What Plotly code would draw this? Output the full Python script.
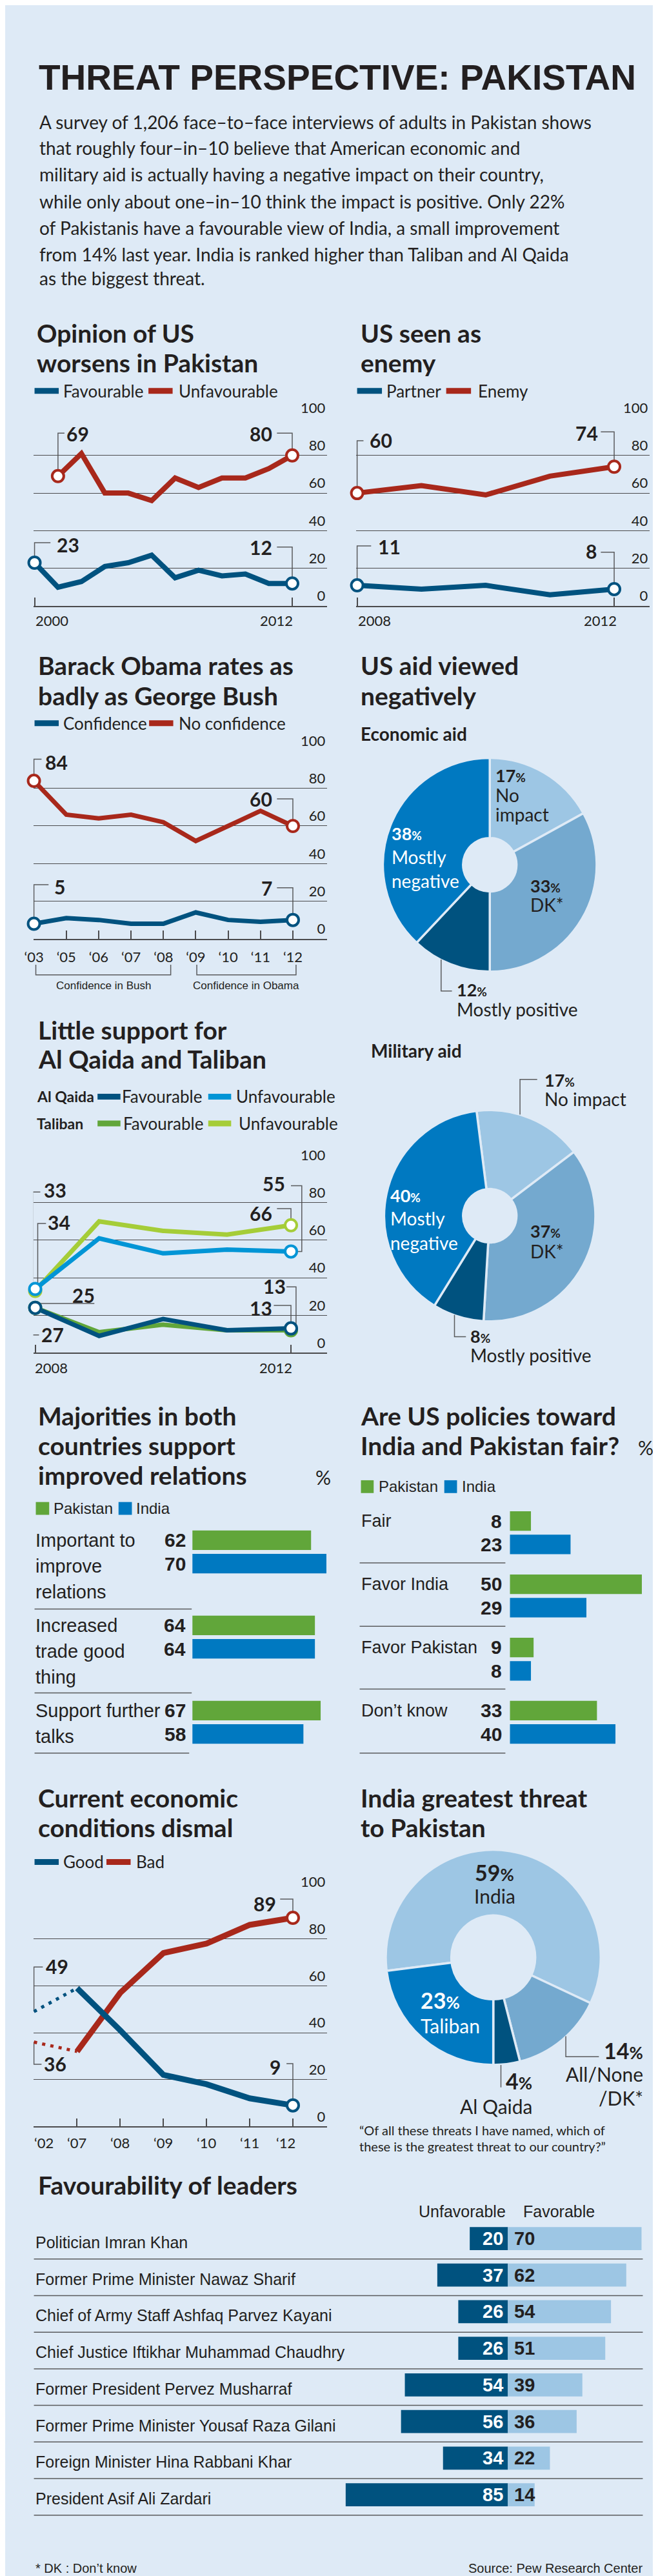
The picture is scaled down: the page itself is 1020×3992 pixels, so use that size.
import plotly.graph_objects as go

W, H = 1020, 3992

# ---------------- data ----------------
opinion_years = ['2000', '2002', '2003', '2004', '2005', '2006', '2007', '2008', '2009', '2010', '2011', '2012']
opinion_favourable = [23, 10, 13, 21, 23, 27, 15, 19, 16, 17, 12, 12]
opinion_unfavourable = [None, 69, 81, 60, 60, 56, 68, 63, 68, 68, 73, 80]
opinion_fav_ends = [23, 12]
opinion_unfav_ends = [69, 80]

enemy_years = ['2008', '2009', '2010', '2011', '2012']
enemy_partner = [11, 9, 11, 6, 9]
enemy_enemy = [60, 64, 59, 69, 74]
enemy_partner_ends = [11, 8]
enemy_enemy_ends = [60, 74]

obama_years = ['\u201803', '\u201805', '\u201806', '\u201807', '\u201808', '\u201809', '\u201810', '\u201811', '\u201812']
obama_confidence = [8, 11, 10, 8, 8, 14, 10, 9, 10]
obama_no_confidence = [84, 66, 64, 66, 62, 52, 60, 68, 60]
obama_conf_ends = [5, 7]
obama_noconf_ends = [84, 60]

militant_years = ['2008', '2009', '2010', '2011', '2012']
alqaida_fav = [24, 9, 18, 12, 13]
alqaida_unfav = [34, 61, 53, 55, 54]
taliban_fav = [24, 11, 15, 12, 12]
taliban_unfav = [33, 70, 65, 63, 68]
alqaida_fav_ends = [25, 13]
alqaida_unfav_ends = [34, 55]
taliban_fav_ends = [27, 13]
taliban_unfav_ends = [33, 66]

economy_years = ['\u201802', '\u201807', '\u201808', '\u201809', '\u201810', '\u201811', '\u201812']
economy_good = [49, 59, 41, 22, 18, 12, 9]
economy_bad = [36, 32, 57, 74, 78, 86, 89]

aid_labels = ['No impact', 'DK*', 'Mostly positive', 'Mostly negative']
economic_aid = [17, 33, 12, 38]
military_aid = [17, 37, 8, 40]

threat_labels = ['India', 'All/None/DK*', 'Al Qaida', 'Taliban']
threat_values = [59, 14, 4, 23]

relations_items = ['Important to improve relations', 'Increased trade good thing', 'Support further talks']
relations_wrap = [['Important to', 'improve', 'relations'], ['Increased', 'trade good', 'thing'], ['Support further', 'talks']]
relations_pakistan = [62, 64, 67]
relations_india = [70, 64, 58]

policy_items = ['Fair', 'Favor India', 'Favor Pakistan', 'Don\u2019t know']
policy_pakistan = [8, 50, 9, 33]
policy_india = [23, 29, 8, 40]

leaders = ['Politician Imran Khan', 'Former Prime Minister Nawaz Sharif', 'Chief of Army Staff Ashfaq Parvez Kayani',
           'Chief Justice Iftikhar Muhammad Chaudhry', 'Former President Pervez Musharraf',
           'Former Prime Minister Yousaf Raza Gilani', 'Foreign Minister Hina Rabbani Khar', 'President Asif Ali Zardari']
leaders_unfavorable = [20, 37, 26, 26, 54, 56, 34, 85]
leaders_favorable = [70, 62, 54, 51, 39, 36, 22, 14]

intro_lines = [
    'A survey of 1,206 face\u2013to\u2013face interviews of adults in Pakistan shows',
    'that roughly four\u2013in\u201310 believe that American economic and',
    'military aid is actually having a negative impact on their country,',
    'while only about one\u2013in\u201310 think the impact is positive. Only 22%',
    'of Pakistanis have a favourable view of India, a small improvement',
    'from 14% last year. India is ranked higher than Taliban and Al Qaida',
    'as the biggest threat.',
]

# ---------------- style ----------------
BG = '#deeaf6'
INK = '#231f20'
GRID = '#4b4b4d'
LEADER = '#5a5b5d'
RED = '#a8281b'
NAVY = '#00527f'
BLUE = '#0079c1'
CYAN = '#0095d6'
GREEN = '#61a63a'
LIME = '#a5cd38'
PALE = '#9dc6e4'
MID = '#74a9cf'
SANS = 'Lato, "Open Sans", sans-serif'
NARROW = '"Liberation Sans", Arial, sans-serif'

fig = go.Figure()
ann, shp, lay = [], [], {}


def X(p):
    return p / W


def Y(p):
    return 1 - p / H


def txt(x, y, s, size, family=SANS, weight=400, color=INK, xanchor='left', yanchor='middle'):
    ann.append(dict(x=X(x), y=Y(y), xref='paper', yref='paper', text=s, showarrow=False,
                    xanchor=xanchor, yanchor=yanchor,
                    font=dict(family=family, size=size, color=color, weight=weight)))


def seg(points, color=LEADER, width=1.5):
    path = 'M ' + ' L '.join(f'{X(a):.5f},{Y(b):.5f}' for a, b in points)
    shp.append(dict(type='path', path=path, xref='paper', yref='paper', line=dict(color=color, width=width)))


def swatch(x0, x1, y, color, width=9):
    shp.append(dict(type='line', x0=X(x0), x1=X(x1), y0=Y(y), y1=Y(y), xref='paper', yref='paper',
                    line=dict(color=color, width=width)))


def square(x0, x1, y0, y1, color):
    shp.append(dict(type='rect', x0=X(x0), x1=X(x1), y0=Y(y1), y1=Y(y0), xref='paper', yref='paper',
                    fillcolor=color, line=dict(width=0)))


def title(x, ys, lines, size=39):
    for y, s in zip(ys, lines):
        txt(x, y, s, size, weight=700)


def line_panel(k, cats, x_first, x_last, left, right, y0, y100, tick_idx, show_labels):
    n = len(cats)
    p = dict(ppx=(x_last - x_first) / (n - 1), ppu=(y0 - y100) / 100.0, x_first=x_first, y0=y0)
    sfx = '' if k == 1 else str(k)
    p['xa'], p['ya'] = 'x' + sfx, 'y' + sfx
    xr = [(left - x_first) / p['ppx'], (n - 1) + (right - x_last) / p['ppx']]
    lay['xaxis' + sfx] = dict(domain=[X(left), X(right)], range=xr, anchor=p['ya'], fixedrange=True,
                              showgrid=False, zeroline=False, showline=True, linecolor=GRID, linewidth=1.5,
                              ticks='inside', ticklen=13, tickwidth=1.5, tickcolor=GRID,
                              tickmode='array', tickvals=tick_idx, ticktext=[cats[i] for i in tick_idx],
                              showticklabels=show_labels, ticklabelstandoff=8,
                              tickfont=dict(family=SANS, size=22, color=INK))
    lay['yaxis' + sfx] = dict(domain=[Y(y0), Y(y100)], range=[0, 100], anchor=p['xa'], side='right',
                              ticklabelposition='inside top', ticklabeloverflow='allow',
                              tickmode='linear', tick0=0, dtick=20, ticks='',
                              showgrid=True, gridcolor=GRID, gridwidth=1, zeroline=False, showline=False,
                              fixedrange=True, tickfont=dict(family=SANS, size=22, color=INK))
    return p


def series(p, ys, color, width=8, dash='solid', xs=None):
    if xs is None:
        xs = list(range(len(ys)))
    fig.add_trace(go.Scatter(x=xs, y=ys, mode='lines', line=dict(color=color, width=width, dash=dash),
                             xaxis=p['xa'], yaxis=p['ya'], cliponaxis=False, hoverinfo='skip',
                             showlegend=False))


def ends(p, ys, color, idx, size=18):
    fig.add_trace(go.Scatter(x=idx, y=[ys[i] for i in idx], mode='markers',
                             marker=dict(size=size, color='white', line=dict(color=color, width=4)),
                             xaxis=p['xa'], yaxis=p['ya'], cliponaxis=False, hoverinfo='skip',
                             showlegend=False))


def callout(p, idx, val, label, tx, ty, anchor, path):
    txt(tx, ty, str(label), 30, weight=700, xanchor=anchor)
    pts = [(idx, val)]
    for xp, yp in path:
        pts.append((idx if xp is None else (xp - p['x_first']) / p['ppx'],
                    val if yp is None else (p['y0'] - yp) / p['ppu']))
    shp.append(dict(type='path', path='M ' + ' L '.join(f'{a:.4f},{b:.4f}' for a, b in pts),
                    xref=p['xa'], yref=p['ya'], line=dict(color=LEADER, width=1.5), layer='below'))


# ---------------- header ----------------
txt(37, 83, 'THREAT PERSPECTIVE: PAKISTAN', 55, family=NARROW, weight=700)
for y, line in zip([152, 192, 234, 276, 317, 359, 396], intro_lines):
    txt(38, y, line, 28)

# ---------------- Opinion of US ----------------
title(33, [482, 528], ['Opinion of US', 'worsens in Pakistan'])
swatch(32, 70, 572, NAVY); txt(75, 572, 'Favourable', 26)
swatch(211, 249, 572, RED); txt(257, 572, 'Unfavourable', 26)
pA = line_panel(1, opinion_years, 32, 437, 30, 492, 908, 614, [0, 11], False)
series(pA, opinion_unfavourable, RED)
series(pA, opinion_favourable, NAVY)
ends(pA, opinion_unfavourable, RED, [1, 11])
ends(pA, opinion_favourable, NAVY, [0, 11])
callout(pA, 1, opinion_unfavourable[1], opinion_unfav_ends[0], 80, 639, 'left', [(None, 638), (79, 638)])
callout(pA, 11, opinion_unfavourable[11], opinion_unfav_ends[1], 408, 639, 'right', [(None, 638), (413, 638)])
callout(pA, 0, opinion_favourable[0], opinion_fav_ends[0], 65, 812, 'left', [(None, 809), (57, 809)])
callout(pA, 11, opinion_favourable[11], opinion_fav_ends[1], 408, 816, 'right', [(None, 816), (413, 816)])
txt(31, 930, opinion_years[0], 22)
txt(440, 930, opinion_years[-1], 22, xanchor='right')

# ---------------- US seen as enemy ----------------
title(542, [482, 528], ['US seen as', 'enemy'])
swatch(539, 578, 572, NAVY); txt(583, 572, 'Partner', 26)
swatch(679, 718, 572, RED); txt(727, 572, 'Enemy', 26)
pB = line_panel(2, enemy_years, 539, 943, 537, 999, 908, 614, [0, 4], False)
series(pB, enemy_enemy, RED)
series(pB, enemy_partner, NAVY)
ends(pB, enemy_enemy, RED, [0, 4])
ends(pB, enemy_partner, NAVY, [0, 4])
callout(pB, 0, enemy_enemy[0], enemy_enemy_ends[0], 557, 649, 'left', [(None, 650), (549, 650)])
callout(pB, 4, enemy_enemy[4], enemy_enemy_ends[1], 920, 638, 'right', [(None, 636), (922, 636)])
callout(pB, 0, enemy_partner[0], enemy_partner_ends[0], 570, 815, 'left', [(None, 814), (561, 814)])
callout(pB, 4, enemy_partner[4], enemy_partner_ends[1], 918, 822, 'right', [(None, 824), (922, 824)])
txt(538, 930, enemy_years[0], 22)
txt(949, 930, enemy_years[-1], 22, xanchor='right')

# ---------------- Obama vs Bush ----------------
title(35, [1001, 1048], ['Barack Obama rates as', 'badly as George Bush'])
swatch(32, 70, 1091, NAVY); txt(75, 1091, 'Confidence', 26)
swatch(212, 250, 1091, RED); txt(257, 1091, 'No confidence', 26)
pC = line_panel(3, obama_years, 31, 438, 30, 492, 1427.5, 1134, list(range(len(obama_years))), True)
series(pC, obama_no_confidence, RED, 7)
series(pC, obama_confidence, NAVY, 7)
ends(pC, obama_no_confidence, RED, [0, 8])
ends(pC, obama_confidence, NAVY, [0, 8])
callout(pC, 0, obama_no_confidence[0], obama_noconf_ends[0], 47, 1152, 'left', [(None, 1147), (43, 1147)])
callout(pC, 8, obama_no_confidence[8], obama_noconf_ends[1], 408, 1209, 'right', [(None, 1209), (413, 1209)])
callout(pC, 0, obama_confidence[0], obama_conf_ends[0], 61, 1346, 'left', [(None, 1343), (54, 1343)])
callout(pC, 8, obama_confidence[8], obama_conf_ends[1], 408, 1348, 'right', [(None, 1348), (413, 1348)])
seg([(34, 1468), (34, 1484), (246, 1484), (246, 1468)])
seg([(287, 1468), (287, 1484), (443, 1484), (443, 1468)])
txt(140, 1501, 'Confidence in Bush', 17, family=NARROW, xanchor='center')
txt(365, 1501, 'Confidence in Obama', 17, family=NARROW, xanchor='center')

# ---------------- US aid pies ----------------
title(542, [1001, 1048], ['US aid viewed', 'negatively'])
txt(542, 1107, 'Economic aid', 28, weight=700)
PIE_COLORS = [PALE, MID, NAVY, BLUE]
fig.add_trace(go.Pie(labels=aid_labels, values=economic_aid, hole=0.25, sort=False, direction='clockwise',
                     rotation=0, marker=dict(colors=PIE_COLORS, line=dict(color=BG, width=3.5)),
                     textinfo='none', hoverinfo='skip', showlegend=False,
                     domain=dict(x=[X(579.5), X(915.5)], y=[Y(1480), Y(1144)])))


def pct(v, small=19):
    return f'{v}<span style="font-size:{small}px">%</span>'


txt(754, 1172, pct(economic_aid[0]), 27, weight=700)
txt(754, 1203, 'No', 28); txt(754, 1233, 'impact', 28)
txt(591, 1263, pct(economic_aid[3]), 27, weight=700, color='white')
txt(591, 1300, 'Mostly', 28, color='white'); txt(591, 1337, 'negative', 28, color='white')
txt(809, 1345, pct(economic_aid[1]), 27, weight=700)
txt(809, 1374, 'DK*', 28)
txt(694, 1507, pct(economic_aid[2]), 27, weight=700)
txt(694, 1538, 'Mostly positive', 28)
seg([(671, 1460), (671, 1509), (688, 1509)])

txt(559, 1602, 'Military aid', 28, weight=700)
fig.add_trace(go.Pie(labels=aid_labels, values=military_aid, hole=0.253, sort=False, direction='clockwise',
                     rotation=-7.2, marker=dict(colors=PIE_COLORS, line=dict(color=BG, width=3.5)),
                     textinfo='none', hoverinfo='skip', showlegend=False,
                     domain=dict(x=[X(581.5), X(913.5)], y=[Y(2026), Y(1694)])))
txt(831, 1648, pct(military_aid[0]), 27, weight=700)
txt(831, 1678, 'No impact', 28)
seg([(795, 1702), (795, 1647), (822, 1647)])
txt(589, 1828, pct(military_aid[3]), 27, weight=700, color='white')
txt(589, 1864, 'Mostly', 28, color='white'); txt(589, 1902, 'negative', 28, color='white')
txt(809, 1884, pct(military_aid[1]), 27, weight=700)
txt(809, 1915, 'DK*', 28)
txt(715, 2048, pct(military_aid[2]), 27, weight=700)
txt(715, 2078, 'Mostly positive', 28)
seg([(692, 2015), (692, 2049), (710, 2049)])

# ---------------- Al Qaida / Taliban ----------------
title(35, [1570, 1615], ['Little support for', 'Al Qaida and Taliban'])
txt(33, 1674, 'Al Qaida', 23, weight=700)
swatch(131, 167, 1674, NAVY); txt(167, 1674, 'Favourable', 26)
swatch(305, 341, 1674, CYAN); txt(347, 1674, 'Unfavourable', 26)
txt(33, 1716, 'Taliban', 23, weight=700)
swatch(131, 167, 1716, GREEN); txt(169, 1716, 'Favourable', 26)
swatch(305, 341, 1716, LIME); txt(351, 1716, 'Unfavourable', 26)
pE = line_panel(4, militant_years, 33, 435, 30, 492, 2074, 1781, [0, 4], False)
series(pE, taliban_unfav, LIME, 7)
series(pE, alqaida_unfav, CYAN, 7)
series(pE, taliban_fav, GREEN, 7)
series(pE, alqaida_fav, NAVY, 7)
ends(pE, taliban_unfav, LIME, [0, 4])
ends(pE, alqaida_unfav, CYAN, [0, 4])
ends(pE, taliban_fav, GREEN, [0, 4])
ends(pE, alqaida_fav, NAVY, [0, 4])
callout(pE, 0, taliban_unfav[0], taliban_unfav_ends[0], 45, 1820, 'left', [(29, None), (29, 1823), (41, 1823)])
callout(pE, 0, alqaida_unfav[0], alqaida_unfav_ends[0], 51, 1870, 'left', [(37, None), (37, 1872), (50, 1872)])
callout(pE, 0, alqaida_fav[0], alqaida_fav_ends[0], 89, 1984, 'left', [(None, 1997), (126, 1997)])
callout(pE, 0, taliban_fav[0], taliban_fav_ends[0], 41, 2045, 'left', [(25, None), (25, 2046), (39, 2046)])
callout(pE, 4, alqaida_unfav[4], alqaida_unfav_ends[1], 428, 1810, 'right', [(452, None), (452, 1813), (435, 1813)])
callout(pE, 4, taliban_unfav[4], taliban_unfav_ends[1], 408, 1856, 'right', [(None, 1849), (413, 1849)])
callout(pE, 4, taliban_fav[4], taliban_fav_ends[1], 429, 1970, 'right', [(443, None), (443, 1971), (428, 1971)])
callout(pE, 4, alqaida_fav[4], alqaida_fav_ends[1], 408, 2004, 'right', [(None, 2000), (408, 2000)])
txt(30, 2097, militant_years[0], 22)
txt(439, 2097, militant_years[-1], 22, xanchor='right')

# ---------------- grouped bar helpers ----------------


def bar_axes(k, left, right, xr, top, bottom, cats):
    sfx = str(k)
    lay['xaxis' + sfx] = dict(domain=[X(left), X(right)], range=xr, anchor='y' + sfx, visible=False,
                              fixedrange=True)
    lay['yaxis' + sfx] = dict(domain=[Y(bottom), Y(top)], type='category', categoryorder='array',
                              categoryarray=cats, range=[len(cats) - 0.5, -0.5], anchor='x' + sfx,
                              visible=False, fixedrange=True)


def cat_text(k, x, cat, s, size, shift, family=NARROW, weight=400, color=INK, xanchor='left'):
    ann.append(dict(x=X(x), y=cat, xref='paper', yref='y' + str(k), yshift=shift, text=s, showarrow=False,
                    xanchor=xanchor, yanchor='middle',
                    font=dict(family=family, size=size, color=color, weight=weight)))


def pair_bars(k, cats, a, b, slot, color_a, color_b, half=18.25, bar=30.5):
    w = bar / slot
    for vals, col, c in ((a, color_a, -half), (b, color_b, half)):
        fig.add_trace(go.Bar(y=cats, x=vals, orientation='h', width=w, offset=c / slot - w / 2,
                             marker=dict(color=col, line=dict(width=0)), xaxis='x' + str(k),
                             yaxis='y' + str(k), hoverinfo='skip', showlegend=False))


# ---------------- Majorities ----------------
title(35, [2172, 2219, 2265], ['Majorities in both', 'countries support', 'improved relations'])
txt(471, 2268, '%', 30)
square(34, 55, 2307, 2327, GREEN); txt(60, 2317, 'Pakistan', 24, family=NARROW)
square(164, 185, 2307, 2327, BLUE); txt(190, 2317, 'India', 24, family=NARROW)
SLOT_G = 133.0
bar_axes(6, 280, 500, [0, 220 / 3.01], 2385 - SLOT_G / 2, 2651 + SLOT_G / 2, relations_items)
pair_bars(6, relations_items, relations_pakistan, relations_india, SLOT_G, GREEN, BLUE)
for i, cat in enumerate(relations_items):
    for j, line in enumerate(relations_wrap[i]):
        cat_text(6, 31, cat, line, 29, 18 - 40 * j)
    cat_text(6, 272, cat, str(relations_pakistan[i]), 30, 18.25, weight=700, xanchor='right')
    cat_text(6, 272, cat, str(relations_india[i]), 30, -18.25, weight=700, xanchor='right')
for y, x1 in ((2474, 279), (2605, 279), (2699, 275)):
    seg([(32, y), (x1, y)], color=LEADER, width=1.5)

# ---------------- US policies fair ----------------
title(542, [2172, 2219], ['Are US policies toward', 'India and Pakistan fair?'])
txt(978, 2222, '%', 30)
square(545, 565, 2273, 2293, GREEN); txt(571, 2283, 'Pakistan', 24, family=NARROW)
square(676, 696, 2273, 2293, BLUE); txt(702, 2283, 'India', 24, family=NARROW)
SLOT_H = 98.67
bar_axes(7, 779, 1000, [0, 221 / 4.15], 2355 - SLOT_H / 2, 2651 + SLOT_H / 2, policy_items)
pair_bars(7, policy_items, policy_pakistan, policy_india, SLOT_H, GREEN, BLUE)
for i, cat in enumerate(policy_items):
    cat_text(7, 543, cat, cat, 27, 18.25)
    cat_text(7, 769, cat, str(policy_pakistan[i]), 30, 18.25, weight=700, xanchor='right')
    cat_text(7, 769, cat, str(policy_india[i]), 30, -18.25, weight=700, xanchor='right')
for y in (2402, 2501, 2599, 2699):
    seg([(543, y), (772, y)], color=LEADER, width=1.5)

# ---------------- Economic conditions ----------------
title(35, [2769, 2815], ['Current economic', 'conditions dismal'])
swatch(32, 70, 2869, NAVY); txt(75, 2869, 'Good', 26)
swatch(145, 183, 2869, RED); txt(190, 2869, 'Bad', 26)
pI = line_panel(5, economy_years, 31, 438, 30, 492, 3282, 2916, list(range(len(economy_years))), False)
series(pI, economy_good[:2], NAVY, 5, dash='5px,8px', xs=[0, 1])
series(pI, economy_bad[:2], RED, 5, dash='5px,8px', xs=[0, 1])
series(pI, [None] + economy_bad[1:], RED, 9)
series(pI, [None] + economy_good[1:], NAVY, 9)
ends(pI, economy_bad, RED, [6])
ends(pI, economy_good, NAVY, [6])
callout(pI, 0, economy_good[0], economy_good[0], 48, 3032, 'left', [(None, 3033), (45, 3033)])
callout(pI, 0, economy_bad[0], economy_bad[0], 45, 3184, 'left', [(None, 3185), (43, 3185)])
callout(pI, 6, economy_bad[6], economy_bad[6], 414, 2934, 'right', [(None, 2927), (418, 2927)])
callout(pI, 6, economy_good[6], economy_good[6], 421, 3189, 'right', [(None, 3184), (428, 3184)])
for i, lab in enumerate(economy_years):
    anchor = 'left' if i == 0 else ('right' if i == len(economy_years) - 1 else 'center')
    shift = -2 if i == 0 else (6 if i == len(economy_years) - 1 else 0)
    ann.append(dict(x=i, y=Y(3307), xref='x5', yref='paper', xshift=shift, text=lab, showarrow=False,
                    xanchor=anchor, yanchor='middle', font=dict(family=SANS, size=22, color=INK)))

# ---------------- Greatest threat ----------------
title(542, [2769, 2815], ['India greatest threat', 'to Pakistan'])
fig.add_trace(go.Pie(labels=threat_labels, values=threat_values, hole=0.39, sort=False, direction='clockwise',
                     rotation=-97.2, marker=dict(colors=[PALE, MID, NAVY, BLUE], line=dict(color=BG, width=3.5)),
                     textinfo='none', hoverinfo='skip', showlegend=False,
                     domain=dict(x=[X(584), X(922)], y=[Y(3187), Y(2849)])))
txt(755, 2885, pct(threat_values[0], small=26), 34, weight=700, xanchor='center')
txt(755, 2922, threat_labels[0], 30, xanchor='center')
txt(637, 3085, pct(threat_values[3], small=26), 34, weight=700, color='white')
txt(637, 3124, threat_labels[3], 30, color='white')
txt(816, 3211, pct(threat_values[2], small=26), 34, weight=700, xanchor='right')
txt(816, 3250, threat_labels[2], 30, xanchor='right')
seg([(765, 3186), (765, 3221)])
txt(991, 3163, pct(threat_values[1], small=26), 34, weight=700, xanchor='right')
txt(991, 3200, 'All/None', 30, xanchor='right')
txt(991, 3237, '/DK*', 30, xanchor='right')
seg([(867, 3141), (867, 3173), (919, 3173)])
txt(540, 3288, '\u201cOf all these threats I have named, which of', 20)
txt(540, 3313, 'these is the greatest threat to our country?\u201d', 20)

# ---------------- Favourability of leaders ----------------
title(35, [3373], ['Favourability of leaders'])
txt(775, 3415, 'Unfavorable', 25, family=NARROW, xanchor='right')
txt(798, 3415, 'Favorable', 25, family=NARROW)
SLOT_L = 57.14
bar_axes(8, 500, 1000, [-(776 - 500) / 3.0, (1000 - 776) / 3.0], 3457 - SLOT_L / 2, 3857 + SLOT_L / 2, leaders)
wl = 36 / SLOT_L
fig.add_trace(go.Bar(y=leaders, x=[-v for v in leaders_unfavorable], orientation='h', width=wl, offset=-wl / 2,
                     marker=dict(color=NAVY, line=dict(width=0)), xaxis='x8', yaxis='y8',
                     hoverinfo='skip', showlegend=False))
fig.add_trace(go.Bar(y=leaders, x=leaders_favorable, orientation='h', width=wl, offset=-wl / 2,
                     marker=dict(color=PALE, line=dict(width=0)), xaxis='x8', yaxis='y8',
                     hoverinfo='skip', showlegend=False))
for i, name in enumerate(leaders):
    cat_text(8, 31, name, name, 25, -6)
    cat_text(8, 771, name, str(leaders_unfavorable[i]), 29, 0, weight=700, color='white', xanchor='right')
    cat_text(8, 784, name, str(leaders_favorable[i]), 29, 0, weight=700)
for i in range(len(leaders)):
    y = 3489 + i * SLOT_L
    seg([(31, y), (988, y)], color=LEADER, width=1.5)
txt(31, 3972, '* DK : Don\u2019t know', 20, family=NARROW)
txt(990, 3972, 'Source: Pew Research Center', 20, family=NARROW, xanchor='right')

lay.update(dict(width=W, height=H, margin=dict(l=0, r=0, t=0, b=0), paper_bgcolor=BG,
                plot_bgcolor='rgba(0,0,0,0)', barmode='overlay', showlegend=False,
                annotations=ann, shapes=shp, font=dict(family=SANS, color=INK)))
fig.update_layout(**lay)
fig.write_html('out.html', config={'displayModeBar': False})
